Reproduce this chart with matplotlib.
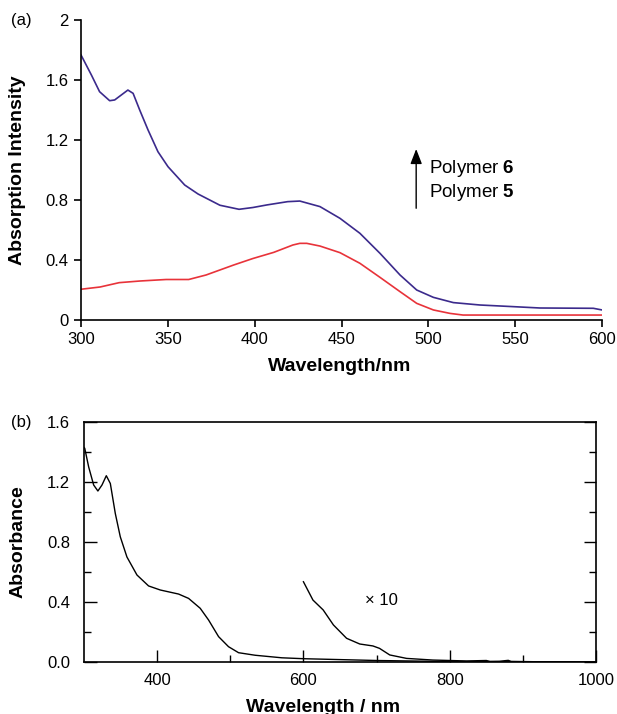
import matplotlib
matplotlib.use("Agg")
import matplotlib.pyplot as plt
from matplotlib.ticker import FixedLocator

plt.rcParams["font.family"] = ["Liberation Sans", "DejaVu Sans"]
plt.rcParams["mathtext.fontset"] = "custom"
plt.rcParams["mathtext.rm"] = "Liberation Sans"
plt.rcParams["mathtext.bf"] = "Liberation Sans:bold"

# panel (a): polymer 6 (blue) and polymer 5 (red)
wl_p6 = [300, 306, 310.7, 316.5, 319.4, 323.2, 327, 330, 333.8, 338.6, 344.3,
         350.1, 359.7, 367.4, 380, 391, 399, 407, 419, 426, 437.6, 449.1, 460.6,
         472.2, 483.7, 493.3, 502.9, 514.4, 529.7, 548.9, 564.3, 595, 600]
abs_p6 = [1.767, 1.633, 1.522, 1.462, 1.467, 1.50, 1.533, 1.511, 1.40, 1.267,
          1.122, 1.022, 0.90, 0.84, 0.765, 0.738, 0.75, 0.767, 0.789, 0.793,
          0.756, 0.678, 0.578, 0.444, 0.30, 0.20, 0.151, 0.116, 0.10, 0.089,
          0.08, 0.078, 0.067]
wl_p5 = [300, 311, 322, 334, 349, 362, 372, 388, 399, 411, 422, 426, 430, 437.6,
         449.1, 460.6, 472.2, 483.7, 493.3, 502.9, 512.5, 520, 600]
abs_p5 = [0.205, 0.22, 0.249, 0.26, 0.27, 0.27, 0.30, 0.367, 0.41, 0.451, 0.50,
          0.511, 0.511, 0.493, 0.449, 0.378, 0.284, 0.189, 0.111, 0.067, 0.044,
          0.033, 0.033]

# panel (b): absorbance and the x10 trace
wl_b = [300, 301, 306.4, 313.2, 319, 324.6, 330.5, 336, 342.8, 349.6, 358.7,
        372.4, 388.3, 404.3, 429.3, 443, 458.9, 470.3, 484, 497.6, 511.3, 534,
        570.5, 600, 700, 800, 1000]
abs_b = [1.43, 1.425, 1.30, 1.18, 1.14, 1.18, 1.242, 1.19, 0.99, 0.835, 0.70,
         0.58, 0.507, 0.48, 0.453, 0.424, 0.358, 0.28, 0.169, 0.102, 0.062, 0.045,
         0.028, 0.022, 0.01, 0.003, 0.0]
wl_x10 = [600, 613, 627, 641, 659, 677, 695, 704, 718, 741, 777, 823, 850, 855,
          868, 880, 884, 914, 1000]
abs_x10 = [0.535, 0.413, 0.347, 0.247, 0.158, 0.12, 0.107, 0.091, 0.047, 0.024,
           0.013, 0.007, 0.010, 0.004, 0.005, 0.011, 0.004, 0.002, 0.0]

yticks_a = [0, 0.4, 0.8, 1.2, 1.6, 2]
ytick_labels_a = ["0", "0.4", "0.8", "1.2", "1.6", "2"]
xticks_a = [300, 350, 400, 450, 500, 550, 600]
yticks_b = [0.0, 0.4, 0.8, 1.2, 1.6]
ytick_labels_b = ["0.0", "0.4", "0.8", "1.2", "1.6"]
xticks_b = [400, 600, 800, 1000]

fig = plt.figure(figsize=(6.17, 7.14), dpi=100)

# ---- (a)
ax1 = fig.add_axes([81 / 617, 1 - 320 / 714, 521 / 617, 300 / 714])
ax1.plot(wl_p6, abs_p6, color="#3b2a8c", lw=1.2)
ax1.plot(wl_p5, abs_p5, color="#e8333a", lw=1.2)
ax1.set_xlim(300, 600)
ax1.set_ylim(0, 2)
ax1.set_xticks(xticks_a)
ax1.set_yticks(yticks_a)
ax1.set_yticklabels(ytick_labels_a)
ax1.spines["top"].set_visible(False)
ax1.spines["right"].set_visible(False)
for s in ("left", "bottom"):
    ax1.spines[s].set_linewidth(1.2)
ax1.tick_params(direction="out", length=5, width=1.2, labelsize=12, pad=4)

ax1.annotate("", xy=(493, 1.14), xytext=(493, 0.745),
             arrowprops=dict(arrowstyle="-|>,head_width=0.35,head_length=0.9",
                             lw=1, color="black", shrinkA=0, shrinkB=0),
             annotation_clip=False)
ax1.text(500.4, 1.007, "Polymer $\\mathbf{6}$", fontsize=13.5, va="center", ha="left")
ax1.text(500.4, 0.847, "Polymer $\\mathbf{5}$", fontsize=13.5, va="center", ha="left")

fig.text(11 / 617, 1 - 21 / 714, "(a)", fontsize=12, va="center", ha="left")
fig.text(18 / 617, 1 - 170 / 714, "Absorption Intensity", fontsize=14,
         fontweight="bold", rotation=90, va="center", ha="center")
fig.text(340 / 617, 1 - 367 / 714, "Wavelength/nm", fontsize=14,
         fontweight="bold", va="center", ha="center")

# ---- (b)
ax2 = fig.add_axes([84 / 617, 1 - 662 / 714, 512 / 617, 240 / 714])
ax2.plot(wl_b, abs_b, color="black", lw=1.0)
ax2.plot(wl_x10, abs_x10, color="black", lw=1.0)
ax2.set_xlim(300, 1000)
ax2.set_ylim(0, 1.6)
ax2.set_xticks(xticks_b)
ax2.xaxis.set_minor_locator(FixedLocator([500, 700, 900]))
ax2.set_yticks(yticks_b)
ax2.set_yticklabels(ytick_labels_b)
ax2.yaxis.set_minor_locator(FixedLocator([0.2, 0.6, 1.0, 1.4]))
for s in ax2.spines.values():
    s.set_linewidth(1.2)
ax2.tick_params(which="major", direction="in", length=9, width=1, labelsize=12,
                right=True)
ax2.tick_params(which="minor", direction="in", length=5, width=1, right=True)
ax2.tick_params(axis="y", pad=10)
ax2.tick_params(axis="x", pad=8)
ax2.text(684, 0.41, "\u00d7 10", fontsize=12, va="center", ha="left")

fig.text(11 / 617, 1 - 422 / 714, "(b)", fontsize=12, va="center", ha="left")
fig.text(18 / 617, 1 - 542 / 714, "Absorbance", fontsize=14,
         fontweight="bold", rotation=90, va="center", ha="center")
fig.text(323 / 617, 1 - 707 / 714, "Wavelength / nm", fontsize=14,
         fontweight="bold", va="center", ha="center")

fig.savefig("out.png", dpi=100)
